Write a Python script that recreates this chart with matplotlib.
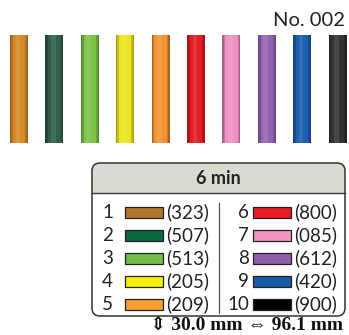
import matplotlib
matplotlib.use("Agg")
import matplotlib.pyplot as plt
from matplotlib.patches import FancyBboxPatch, Rectangle
import numpy as np

# ---- data ----
numbers = [1, 2, 3, 4, 5, 6, 7, 8, 9, 10]
codes = ["323", "507", "513", "205", "209", "800", "085", "612", "420", "900"]
lengths = [30.0] * 10
bar_colors = ["#d68a2a", "#2f5e4a", "#7cc244", "#ebe522", "#f39331",
              "#e21d26", "#f190c2", "#9562b2", "#1c5eb2", "#333333"]
swatch_colors = ["#b2742f", "#0b6640", "#72bf44", "#f6ef0e", "#f99d33",
                 "#ec1c24", "#f194c2", "#8f5ea8", "#1b5aa6", "#000000"]
title = "6 min"
label_no = "No. 002"
dims = "\u21d5 30.0 mm \u21d4 96.1 mm"

W, H = 349, 335
fig = plt.figure(figsize=(W / 100, H / 100), dpi=100)
fig.patch.set_facecolor("white")

# ---- bars axes ----
bar_top, bar_bot = 35, 143
x_first, step = 19.0, 35.4
ax_b = fig.add_axes([0, 1 - bar_bot / H, 1, (bar_bot - bar_top) / H])
ax_b.set_xlim(-x_first / step, (W - x_first) / step)
ax_b.set_ylim(0, max(lengths))
ax_b.axis("off")
idx = np.arange(len(lengths))
bw = 0.51
ax_b.bar(idx, lengths, width=bw, color=bar_colors, linewidth=0)
# cylindrical shading: slightly darker edges, light centre
for frac, alpha in [(0.16, 0.18), (0.07, 0.15)]:
    ax_b.bar(idx - bw / 2 + bw * frac / 2, lengths, width=bw * frac,
             color="black", alpha=alpha, linewidth=0)
    ax_b.bar(idx + bw / 2 - bw * frac / 2, lengths, width=bw * frac,
             color="black", alpha=alpha, linewidth=0)
ax_b.bar(idx - bw * 0.06, lengths, width=bw * 0.25, color="white",
         alpha=0.10, linewidth=0)

# ---- overlay axes in pixel coords ----
ax = fig.add_axes([0, 0, 1, 1])
ax.set_xlim(0, W)
ax.set_ylim(H, 0)
ax.axis("off")

sans = ["Lato", "DejaVu Sans"]
ax.text(345, 21, label_no, ha="right", va="center", fontsize=14.5,
        family=sans, color="#222222")

# legend box
bx0, bx1, by0, by1, hy = 92, 345, 163, 316, 193
r = 8
body = FancyBboxPatch((bx0, by0), bx1 - bx0, by1 - by0,
                      boxstyle=f"round,pad=0,rounding_size={r}",
                      facecolor="white", edgecolor="none", zorder=1)
ax.add_patch(body)
head = FancyBboxPatch((bx0, by0), bx1 - bx0, (hy - by0) + 2 * r,
                      boxstyle=f"round,pad=0,rounding_size={r}",
                      facecolor="#dadad0", edgecolor="none", zorder=2)
ax.add_patch(head)
clip = Rectangle((bx0, by0), bx1 - bx0, hy - by0, transform=ax.transData)
head.set_clip_path(clip)
ax.plot([bx0, bx1], [hy, hy], color="#3a3a3a", lw=1.0, zorder=3)
border = FancyBboxPatch((bx0, by0), bx1 - bx0, by1 - by0,
                        boxstyle=f"round,pad=0,rounding_size={r}",
                        facecolor="none", edgecolor="#333333", lw=1.1, zorder=4)
ax.add_patch(border)

ax.text((bx0 + bx1) / 2, 178.5, title, ha="center", va="center",
        fontsize=13, fontweight="bold", family=sans, color="#222222", zorder=5)

# divider
ax.plot([219, 219], [203, 313], color="#555555", lw=0.9, zorder=5)

row_y0, row_dy = 212.5, 23.0
cols = [(113, 125, 166), (249, 253, 294)]
for i, (n, c, sc) in enumerate(zip(numbers, codes, swatch_colors)):
    col = i // 5
    row = i % 5
    y = row_y0 + row * row_dy
    nx, sx, cx = cols[col]
    ax.text(nx, y, str(n), ha="right", va="center", fontsize=13.5,
            family=sans, color="#222222", zorder=5)
    ax.add_patch(Rectangle((sx, y - 5.5), 38, 11, facecolor=sc,
                           edgecolor="#222222", lw=0.9, zorder=5))
    ax.text(cx, y, f"({c})", ha="left", va="center", fontsize=13.5,
            family=sans, color="#222222", zorder=5)

ax.text(343, 325.5, dims, ha="right", va="center", fontsize=14,
        fontweight="bold", family=["Liberation Serif", "DejaVu Serif"],
        color="#111111")

fig.savefig("out.png", dpi=100, facecolor="white")
